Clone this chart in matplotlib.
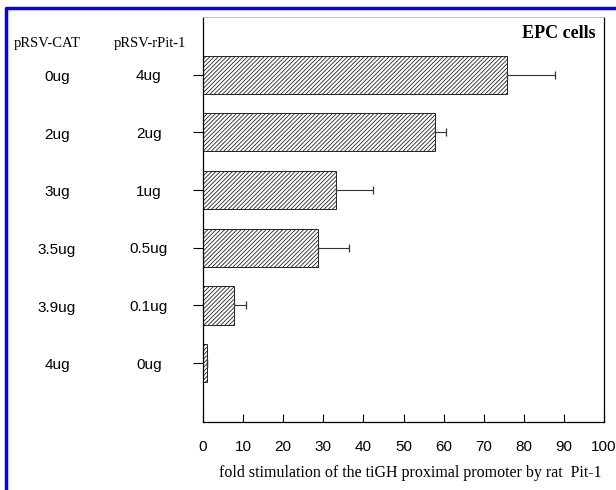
import matplotlib
matplotlib.use("Agg")
import matplotlib.pyplot as plt
from matplotlib.lines import Line2D
import matplotlib.transforms as mtransforms

# doses of each plasmid (top to bottom)
rpit_dose = ['4ug', '2ug', '1ug', '0.5ug', '0.1ug', '0ug']
cat_dose = ['0ug', '2ug', '3ug', '3.5ug', '3.9ug', '4ug']
fold = [75.7, 57.8, 33.2, 28.6, 7.8, 0.9]
fold_err = [12.0, 2.8, 9.2, 7.8, 2.8, 0.0]

serif = 'Liberation Serif'
sans = 'Liberation Sans'
plt.rcParams['hatch.linewidth'] = 0.6
plt.rcParams['hatch.color'] = '#333333'

W, H = 616, 490
fig = plt.figure(figsize=(W / 100, H / 100), dpi=100)
ax = fig.add_axes([203 / W, 1 - 422 / H, (604 - 203) / W, (422 - 17) / H])

pos = list(range(len(fold)))[::-1]   # first bar on top
ax.barh(pos, fold, height=0.66, color='white', edgecolor='#222222',
        hatch='////////', linewidth=0.7)
ax.errorbar(fold, pos, xerr=[[0] * len(fold_err), fold_err], fmt='none',
            ecolor='#333333', elinewidth=0.8, capsize=3, capthick=0.9)

ax.set_xlim(0, 100)
ax.set_ylim(-1.02, 6.0)
ax.set_xticks(range(0, 101, 10))
ax.set_xticklabels([str(v) for v in range(0, 101, 10)], family=sans, fontsize=11)
ax.tick_params(axis='x', direction='in', length=6, width=0.8, pad=13)

ax.set_yticks(pos)
ax.set_yticklabels(rpit_dose, family=sans, fontsize=11, ha='center')
ax.tick_params(axis='y', direction='out', length=7, width=0.8, pad=32)

for s in ['left', 'bottom', 'right']:
    ax.spines[s].set_linewidth(0.9)
ax.spines['top'].set_color('#bbbbbb')
ax.spines['top'].set_linewidth(0.7)

ax.set_xlabel('fold stimulation of the tiGH proximal promoter by rat  Pit-1',
              family=serif, fontsize=11.5, labelpad=10)
ax.xaxis.set_label_coords(0.516, -0.105)

ax.text(0.98, 0.98, 'EPC cells', transform=ax.transAxes, ha='right', va='top',
        family=serif, fontsize=13, fontweight='bold')

# column headers and the pRSV-CAT doses
fig.text(47 / W, 1 - 43 / H, 'pRSV-CAT', family=serif, fontsize=10.5,
         ha='center', va='center')
fig.text(150 / W, 1 - 43 / H, 'pRSV-rPit-1', family=serif, fontsize=10.5,
         ha='center', va='center')
tr = mtransforms.blended_transform_factory(fig.transFigure, ax.transData)
for p, lab in zip(pos, cat_dose):
    ax.text(57 / W, p - 0.04, lab, transform=tr, family=sans, fontsize=11,
            ha='center', va='center')

# blue frame around the figure
fig.add_artist(Line2D([6 / W, 6 / W, 1.01], [-0.01, 1 - 8 / H, 1 - 8 / H],
                      transform=fig.transFigure, color='#0000ff', lw=2.5))

fig.savefig('out.png', dpi=100)
